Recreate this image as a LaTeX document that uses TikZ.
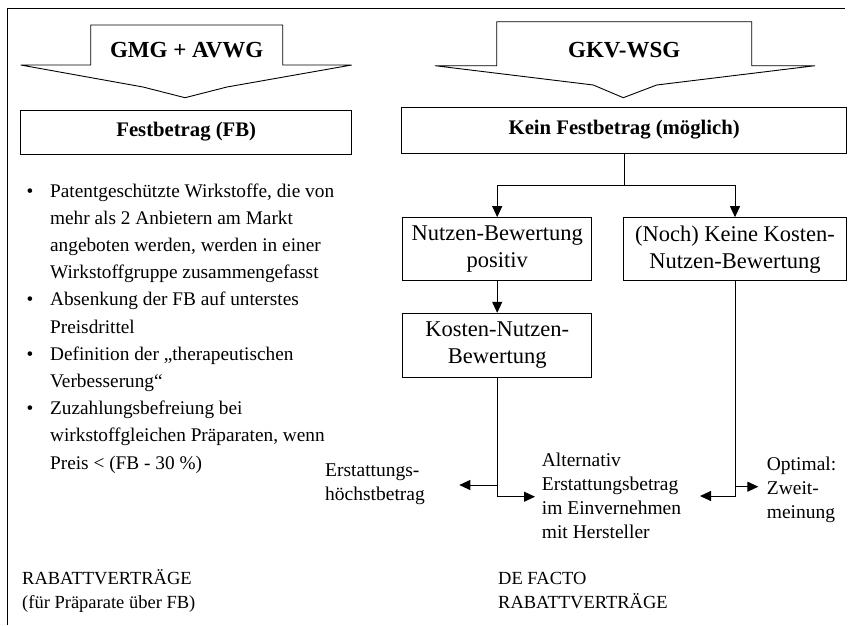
\documentclass[tikz,border=0pt]{standalone}
\usepackage{fontspec}
\setmainfont{Liberation Serif}
\usetikzlibrary{arrows.meta, positioning, calc}
\newcommand{\rows}[1]{\begin{tabular}[t]{@{}l@{}}#1\end{tabular}}

\begin{document}
\begin{tikzpicture}[x=1pt, y=-1pt,
  every node/.style={inner sep=0pt},
  conn/.style={line width=0.9pt},
  arr/.style={line width=0.9pt, -{Triangle[length=11pt, width=10pt]}},
  box/.style={draw, line width=1pt, align=center, font=\fontsize{22.5}{27}\selectfont},
  head/.style={font=\fontsize{23}{27}\selectfont\bfseries},
  boxhead/.style={font=\fontsize{20.7}{25}\selectfont\bfseries},
  note/.style={anchor=base west, font=\fontsize{19.5}{24}\selectfont},
  foot/.style={anchor=base west, font=\fontsize{18.5}{24}\selectfont}]
  \useasboundingbox (0,0) rectangle (859,625);
  % frame (open at right and bottom)
  \draw[conn] (845,8) -- (7,8) -- (7,625);

  % block arrows
  \draw[conn] (90.7,25) -- (282.7,25) -- (282.7,65) -- (351.7,65) -- (227,87)
    -- (185,97.7) -- (143,87) -- (20.7,65) -- (90.7,65) -- cycle;
  \node[head] (gmg) at (186.7,50) {GMG + AVWG};
  \draw[conn] (496.7,21.7) -- (751.7,21.7) -- (751.7,65.7) -- (815,65.7) -- (656.7,85)
    -- (623.3,97.7) -- (593.3,85) -- (435,65.7) -- (496.7,65.7) -- cycle;
  \node[head] (gkv) at (624.2,50) {GKV-WSG};

  % boxes
  \node[box, boxhead, minimum width=331pt, minimum height=44pt] (fb) at (186.2,132) {Festbetrag (FB)};
  \node[box, boxhead, minimum width=445pt, minimum height=46pt] (kein) at (624.2,130) {Kein Festbetrag (möglich)};
  \node[box, minimum width=189pt, minimum height=63.3pt] (nutzen) at (497.2,249.3) {Nutzen-Bewertung\\positiv};
  \node[box, minimum width=223.4pt, minimum height=63.3pt] (noch) at (735,249.3) {(Noch) Keine Kosten-\\Nutzen-Bewertung};
  \node[box, minimum width=189pt, minimum height=63.7pt] (kosten) at (497.2,345.2) {Kosten-Nutzen-\\Bewertung};

  % bullet list
  \node[anchor=base west, font=\fontsize{19.3}{27.2}\selectfont] (list) at (26.5,197) {%
    \begin{tabular}[t]{@{}l@{\hspace{16.7pt}}l@{}}
      \textbullet & Patentgeschützte Wirkstoffe, die von\\
                  & mehr als 2 Anbietern am Markt\\
                  & angeboten werden, werden in einer\\
                  & Wirkstoffgruppe zusammengefasst\\
      \textbullet & Absenkung der FB auf unterstes\\
                  & Preisdrittel\\
      \textbullet & Definition der „therapeutischen\\
                  & Verbesserung“\\
      \textbullet & Zuzahlungsbefreiung bei\\
                  & wirkstoffgleichen Präparaten, wenn\\
                  & Preis < (FB - 30 \%)
    \end{tabular}};

  % outcomes
  \node[note] (erst) at (325,476) {\rows{Erstattungs-\\höchstbetrag}};
  \node[note] (alt) at (541.7,466.7) {\rows{Alternativ\\Erstattungsbetrag\\im Einvernehmen\\mit Hersteller}};
  \node[note] (opt) at (766.7,470) {\rows{Optimal:\\Zweit-\\meinung}};
  \node[foot] (rabl) at (22,584) {\rows{RABATTVERTRÄGE\\(für Präparate über FB)}};
  \node[foot] (rabr) at (498,584) {\rows{DE FACTO\\RABATTVERTRÄGE}};

  \coordinate (erst-tip) at (459.3,485);
  \coordinate (alt-tip-l) at (535,496.7);
  \coordinate (alt-tip-r) at (700,496);
  \coordinate (opt-tip) at (758.3,486.7);

  % connectors
  \draw[arr] (kein.south) -- ++(0,32) -| (nutzen.north);
  \draw[arr] (kein.south) -- ++(0,32) -| (noch.north);
  \draw[arr] (nutzen) -- (kosten);
  \draw[arr] (kosten.south) |- (alt-tip-l);
  \draw[arr] (kosten.south |- erst-tip) -- (erst-tip);
  \draw[arr] (noch.south) |- (alt-tip-r);
  \draw[arr] (noch.south |- opt-tip) -- (opt-tip);
\end{tikzpicture}
\end{document}
